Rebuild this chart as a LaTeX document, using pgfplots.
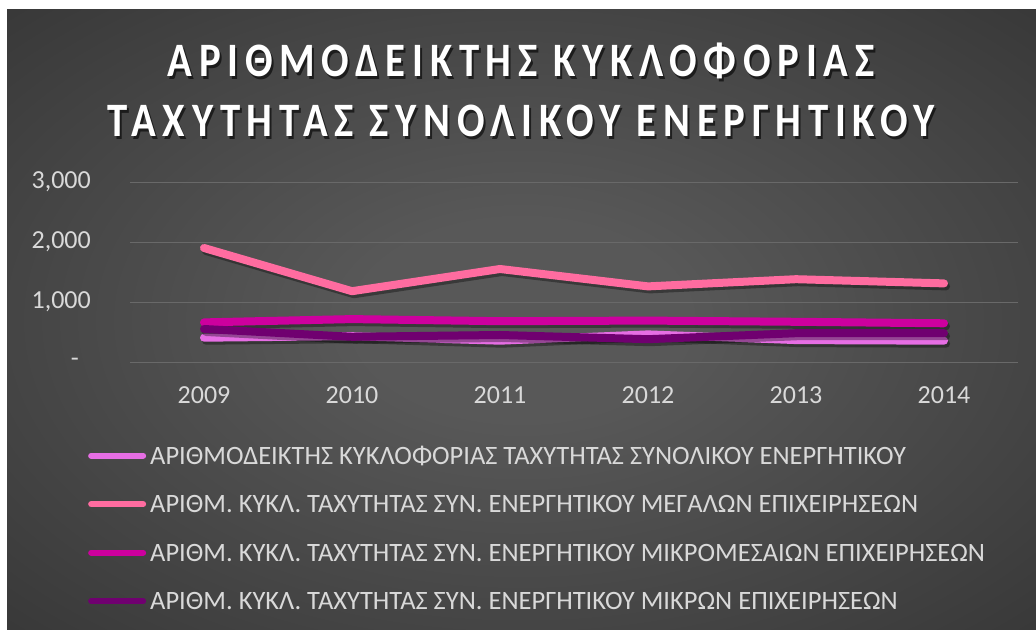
\documentclass[border=0pt]{standalone}
\usepackage{pgfplots}
\usepackage{pgfplotstable}
\pgfplotsset{compat=1.18}
\usepackage{fontspec}
\setmainfont{Carlito}
\newfontfamily\titlefont[FakeStretch=0.85,LetterSpace=14]{Carlito}

\definecolor{bgin}{RGB}{88,88,88}
\definecolor{bgout}{RGB}{40,40,40}
\definecolor{gridc}{RGB}{105,105,105}
\definecolor{txt}{RGB}{217,217,217}
\definecolor{cTotal}{RGB}{230,110,228}
\definecolor{cLarge}{RGB}{255,108,160}
\definecolor{cSme}{RGB}{205,0,158}
\definecolor{cSmall}{RGB}{112,0,112}

% x: 0 = 2009 ... 5 = 2014
\pgfplotstableread{
x y
0 405
1 430
2 355
3 460
4 365
5 355
}\total
\pgfplotstableread{
x y
0 1900
1 1180
2 1550
3 1260
4 1380
5 1310
}\large
\pgfplotstableread{
x y
0 660
1 715
2 680
3 690
4 670
5 645
}\sme
\pgfplotstableread{
x y
0 550
1 420
2 450
3 380
4 480
5 480
}\small

\pgfdeclareradialshading{bg}{\pgfpoint{0bp}{0bp}}{color(0bp)=(bgin); color(8bp)=(bgin); color(50bp)=(bgout); color(75bp)=(bgout)}

\begin{document}
\begin{tikzpicture}[x=1bp,y=1bp]
\fill[white] (0,0) rectangle (1036,630);
\shade[shading=bg] (7,0) rectangle (1036,620);

% title
\foreach \yy/\tl in {569/{ΑΡΙΘΜΟΔΕΙΚΤΗΣ ΚΥΚΛΟΦΟΡΙΑΣ},509/{ΤΑΧΥΤΗΤΑΣ ΣΥΝΟΛΙΚΟΥ ΕΝΕΡΓΗΤΙΚΟΥ}}{
  \node[black, opacity=0.6, font=\titlefont\bfseries\fontsize{48bp}{48bp}\selectfont] at (523,\yy-2.5) {\tl};
  \node[white, font=\titlefont\bfseries\fontsize{48bp}{48bp}\selectfont] at (521,\yy) {\tl};
}

\begin{axis}[
  at={(130bp,268bp)}, anchor=south west,
  scale only axis, width=888bp, height=180bp,
  xmin=-0.5, xmax=5.5, ymin=0, ymax=3000,
  axis line style={draw=none}, major tick length=0pt,
  ymajorgrids, grid style={gridc, line width=0.8bp},
  xtick={0,1,2,3,4,5}, xticklabels={2009,2010,2011,2012,2013,2014},
  ytick={0,1000,2000,3000},
  yticklabels={{-\hspace*{12bp}},{1,000},{2,000},{3,000}},
  ticklabel style={font=\fontsize{26bp}{30bp}\selectfont, text=txt, inner sep=0pt},
  yticklabel style={anchor=east, xshift=-39bp},
  xticklabel style={anchor=center, yshift=-33bp},
  every axis plot/.append style={line width=8bp, line join=round, line cap=round},
  shadow/.style={black, opacity=0.35, forget plot, transform canvas={shift={(2bp,-3bp)}}},
  legend style={at={(-0.0507,-0.461)}, anchor=north west, draw=none, fill=none,
    font=\fontsize{26.5bp}{30bp}\selectfont, text=txt,
    row sep=31.5bp, column sep=4bp,
    nodes={inner sep=0pt, text height=17bp, text depth=0pt}},
  legend cell align=left,
  legend image code/.code={\draw[#1, line width=6bp, line cap=round] (3bp,0bp) -- (55bp,0bp);},
]
\addplot[shadow] table {\total};
\addplot[cTotal] table {\total};
\addlegendentry{ΑΡΙΘΜΟΔΕΙΚΤΗΣ ΚΥΚΛΟΦΟΡΙΑΣ ΤΑΧΥΤΗΤΑΣ ΣΥΝΟΛΙΚΟΥ ΕΝΕΡΓΗΤΙΚΟΥ}
\addplot[shadow] table {\large};
\addplot[cLarge] table {\large};
\addlegendentry{ΑΡΙΘΜ. ΚΥΚΛ. ΤΑΧΥΤΗΤΑΣ ΣΥΝ. ΕΝΕΡΓΗΤΙΚΟΥ ΜΕΓΑΛΩΝ ΕΠΙΧΕΙΡΗΣΕΩΝ}
\addplot[shadow] table {\sme};
\addplot[cSme] table {\sme};
\addlegendentry{ΑΡΙΘΜ. ΚΥΚΛ. ΤΑΧΥΤΗΤΑΣ ΣΥΝ. ΕΝΕΡΓΗΤΙΚΟΥ ΜΙΚΡΟΜΕΣΑΙΩΝ ΕΠΙΧΕΙΡΗΣΕΩΝ}
\addplot[shadow] table {\small};
\addplot[cSmall] table {\small};
\addlegendentry{ΑΡΙΘΜ. ΚΥΚΛ. ΤΑΧΥΤΗΤΑΣ ΣΥΝ. ΕΝΕΡΓΗΤΙΚΟΥ ΜΙΚΡΩΝ ΕΠΙΧΕΙΡΗΣΕΩΝ}
\end{axis}
\end{tikzpicture}
\end{document}
